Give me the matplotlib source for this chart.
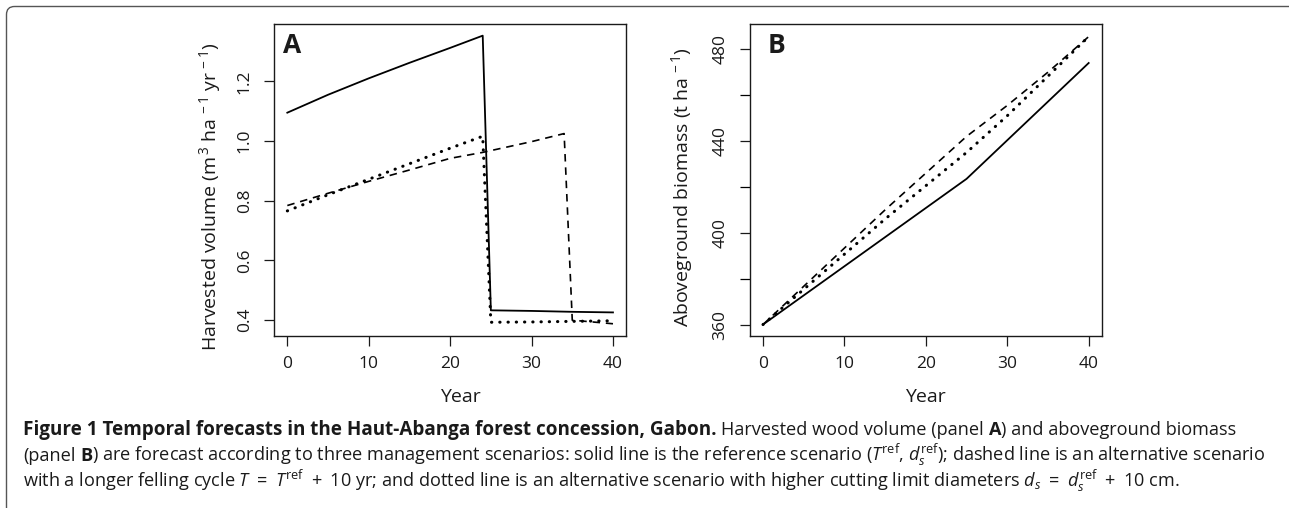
import numpy as np
import matplotlib
matplotlib.use("Agg")
import matplotlib.pyplot as plt
from matplotlib.patches import FancyBboxPatch

plt.rcParams['font.family'] = ['Open Sans', 'DejaVu Sans']
plt.rcParams['mathtext.fontset'] = 'custom'
plt.rcParams['mathtext.rm'] = 'Open Sans'
plt.rcParams['mathtext.it'] = 'Open Sans:italic'
plt.rcParams['mathtext.bf'] = 'Open Sans:bold'

INK = '#1a1a1a'

# panel A: harvested volume (m3/ha/yr)
yr_solid_a = [0, 5, 10, 15, 20, 24, 25, 30, 35, 40]
vol_solid = [1.095, 1.155, 1.21, 1.262, 1.312, 1.353, 0.433, 0.431, 0.428, 0.426]
yr_dashed_a = [0, 5, 10, 15, 20, 24, 30, 34, 35, 40]
vol_dashed = [0.784, 0.825, 0.865, 0.903, 0.942, 0.962, 0.998, 1.025, 0.400, 0.388]
yr_dotted_a = [0, 5, 10, 15, 20, 24, 25, 30, 35, 40]
vol_dotted = [0.766, 0.820, 0.872, 0.924, 0.976, 1.016, 0.393, 0.394, 0.396, 0.398]

# panel B: aboveground biomass (t/ha)
yr_solid_b = [0, 25, 40]
agb_solid = [360, 423.5, 474]
yr_dashed_b = [0, 15, 25, 30, 35, 40]
agb_dashed = [360, 410, 442, 455.5, 470, 485.5]
yr_dotted_b = [0, 15, 25, 30, 40]
agb_dotted = [360, 406, 435, 451, 485.5]

xticks = [0, 10, 20, 30, 40]
yticks_a = [0.4, 0.6, 0.8, 1.0, 1.2]
yticks_b = [360, 400, 440, 480]
yminor_b = [380, 420, 460]

W, H = 1289, 508
fig = plt.figure(figsize=(W / 100, H / 100), dpi=100)

# pixel overlay for frame + caption
bg = fig.add_axes([0, 0, 1, 1], zorder=-1)
bg.set_xlim(0, W)
bg.set_ylim(H, 0)
bg.axis('off')
bg.add_patch(FancyBboxPatch((6.5, 6.5), 1500, 700, boxstyle='round,pad=0,rounding_size=8',
                            fc='none', ec='#555555', lw=1.0))

axA = fig.add_axes([274.3 / W, (H - 336) / H, 351.7 / W, 312 / H])
axB = fig.add_axes([750 / W, (H - 336) / H, 351.7 / W, 312 / H])


def style(ax):
    for s in ax.spines.values():
        s.set_color(INK)
        s.set_linewidth(1.0)
    ax.tick_params(direction='out', length=7.5, width=0.9, color=INK,
                   labelsize=12.5, labelcolor=INK, pad=7)
    ax.tick_params(axis='y', which='both', labelrotation=90, length=7.5, width=0.9, pad=8)
    for lab in ax.get_yticklabels():
        lab.set_va('center')


def draw(ax, xs, ys, kind):
    if kind == 'solid':
        ax.plot(xs, ys, color='black', lw=1.3)
    elif kind == 'dashed':
        ax.plot(xs, ys, color='black', lw=1.2, linestyle=(0, (4.5, 3.5)))
    else:
        ax.plot(xs, ys, color='black', lw=2.2, linestyle=(0, (0.1, 2.6)),
                dash_capstyle='round')


draw(axA, yr_solid_a, vol_solid, 'solid')
draw(axA, yr_dashed_a, vol_dashed, 'dashed')
draw(axA, yr_dotted_a, vol_dotted, 'dotted')
axA.set_xlim(-1.6, 41.6)
axA.set_ylim(0.347, 1.392)
axA.set_xticks(xticks)
axA.set_yticks(yticks_a)
axA.set_yticklabels([f'{v:.1f}' for v in yticks_a])
style(axA)
axA.set_xlabel('Year', fontsize=14, color=INK, va='center')
axA.xaxis.set_label_coords(0.528, -0.195)
axA.set_ylabel(r'Harvested volume (m$^{\,3}$ ha$^{\,-1}$ yr$^{\,-1}$)', fontsize=14, color=INK, va='center')
axA.yaxis.set_label_coords(-0.183, 0.445)
axA.text(0.025, 0.975, 'A', transform=axA.transAxes, fontsize=19, fontweight='bold',
         va='top', ha='left', color=INK)

draw(axB, yr_solid_b, agb_solid, 'solid')
draw(axB, yr_dashed_b, agb_dashed, 'dashed')
draw(axB, yr_dotted_b, agb_dotted, 'dotted')
axB.set_xlim(-1.6, 41.6)
axB.set_ylim(355, 491)
axB.set_xticks(xticks)
axB.set_yticks(yticks_b)
axB.set_yticks(yminor_b, minor=True)
style(axB)
axB.set_xlabel('Year', fontsize=14, color=INK, va='center')
axB.xaxis.set_label_coords(0.5, -0.195)
axB.set_ylabel(r'Aboveground biomass (t ha$^{\,-1}$)', fontsize=14, color=INK, va='center')
axB.yaxis.set_label_coords(-0.194, 0.476)
axB.text(0.049, 0.975, 'B', transform=axB.transAxes, fontsize=19, fontweight='bold',
         va='top', ha='left', color=INK)

# caption, drawn piece by piece so bold/regular can share a line
renderer = fig.canvas.get_renderer()
CAP = 13.05
CAP_TITLE = 13.6


def width_of(s, weight):
    t = bg.text(0, 0, s, fontsize=CAP, fontweight=weight)
    w = t.get_window_extent(renderer).width
    t.remove()
    return w


space_w = width_of('x x', 'normal') - width_of('xx', 'normal')


def caption_line(x, y, pieces):
    for s, weight, size in pieces:
        lead = len(s) - len(s.lstrip(' '))
        trail = len(s) - len(s.rstrip(' '))
        x += lead * space_w
        t = bg.text(x, y, s.strip(' '), fontsize=size, fontweight=weight, color=INK,
                    ha='left', va='baseline')
        x += t.get_window_extent(renderer).width + trail * space_w


caption_line(23, 435, [
    ('Figure 1 Temporal forecasts in the Haut-Abanga forest concession, Gabon.', 'bold', CAP_TITLE),
    (' Harvested wood volume (panel ', 'normal', CAP), ('A', 'bold', CAP),
    (') and aboveground biomass', 'normal', CAP)])
caption_line(23, 461, [
    ('(panel ', 'normal', CAP), ('B', 'bold', CAP),
    (r') are forecast according to three management scenarios: solid line is the reference '
     r'scenario ($T^{\mathrm{ref}}$, $d_s^{\mathrm{ref}}$); dashed line is an alternative scenario',
     'normal', CAP)])
caption_line(23, 487, [
    (r'with a longer felling cycle $T\ =\ T^{\mathrm{ref}}\ +\ 10$ yr; and dotted line is an '
     r'alternative scenario with higher cutting limit diameters $d_s\ =\ d_s^{\mathrm{ref}}\ +\ 10$ cm.',
     'normal', CAP)])

fig.savefig('out.png', dpi=100)
